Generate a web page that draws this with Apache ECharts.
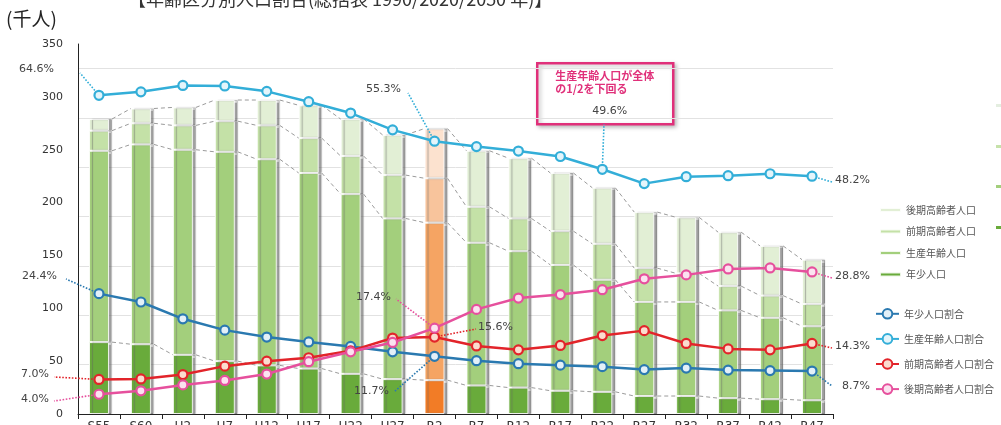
<!DOCTYPE html>
<html>
<head>
<meta charset="utf-8">
<script src="https://cdn.jsdelivr.net/npm/echarts@6/dist/echarts.min.js"></script>
<style>
html, body { margin: 0; padding: 0; background: #fff; }
#chart { width: 1001px; height: 425px; }
</style>
</head>
<body>
<div id="chart"></div>
<script>
// 年次（和暦）
const years = ['S55', 'S60', 'H2', 'H7', 'H12', 'H17', 'H22', 'H27', 'R2', 'R7', 'R12', 'R17', 'R22', 'R27', 'R32', 'R37', 'R42', 'R47']
// 人口（千人）
const young = [68, 66, 56, 50, 46, 43, 38, 33, 32, 27, 25, 22, 21, 17, 17, 15, 14, 13]
const working = [181, 189, 194, 198, 195, 185, 170, 152, 149, 135, 129, 119, 106, 89, 89, 83, 77, 70]
const early = [19, 20, 23, 29, 32, 33, 36, 41, 42, 34, 31, 32, 34, 32, 27, 23, 21, 21]
const late = [11, 14, 17, 20, 24, 31, 35, 38, 47, 53, 57, 55, 53, 53, 53, 51, 47, 42]
// 割合（％）
const youngPct = [24.4, 22.7, 19.3, 17.0, 15.6, 14.6, 13.7, 12.6, 11.7, 10.8, 10.2, 9.9, 9.6, 9.0, 9.3, 8.9, 8.8, 8.7]
const workingPct = [64.6, 65.3, 66.6, 66.5, 65.4, 63.3, 61.0, 57.6, 55.3, 54.2, 53.3, 52.2, 49.6, 46.7, 48.1, 48.3, 48.7, 48.2]
const earlyPct = [7.0, 7.1, 8.0, 9.7, 10.7, 11.4, 12.8, 15.4, 15.6, 13.8, 13.0, 13.9, 15.9, 16.9, 14.3, 13.2, 13.0, 14.3]
const latePct = [4.0, 4.7, 5.9, 6.8, 8.1, 10.6, 12.6, 14.5, 17.4, 21.2, 23.5, 24.2, 25.2, 27.4, 28.2, 29.4, 29.6, 28.8]
// 目盛
const leftTicks = { min: 0, max: 350, interval: 50 }
const pctTicks = { min: 0, max: 75, interval: 10 }

const hiIndex = 8 // R2 をオレンジで強調
const barW = 20
const jp = '"Noto Sans CJK JP", sans-serif'
const num = '"DejaVu Sans", sans-serif'

// 積み上げの上端（区分線用）
const cum1 = young
const cum2 = young.map((v, i) => v + working[i])
const cum3 = cum2.map((v, i) => v + early[i])
const cum4 = cum3.map((v, i) => v + late[i])
const levels = [cum1, cum2, cum3, cum4]

function barData(arr, hiColor) {
    return arr.map((v, i) => i === hiIndex ? { value: v, itemStyle: { color: hiColor } } : v)
}

const barBase = {
    type: 'bar',
    stack: 'pop',
    barWidth: barW,
    itemStyle: {
        borderColor: 'rgba(255,255,255,0.85)',
        borderWidth: 1,
        shadowColor: 'rgba(100,100,100,0.6)',
        shadowBlur: 1,
        shadowOffsetX: 3
    }
}

function lineSeries(name, data, color, fill, leaders) {
    return {
        name: name,
        type: 'line',
        yAxisIndex: 1,
        data: data,
        z: 5,
        symbol: 'circle',
        symbolSize: 9,
        lineStyle: { color: color, width: 2.5 },
        itemStyle: { color: fill, borderColor: color, borderWidth: 2.2 },
        markLine: {
            silent: true,
            symbol: ['none', 'none'],
            label: { show: false },
            lineStyle: { color: color, type: 'dotted', width: 1.6 },
            data: leaders.map(l => [{ coord: [l[0], data[l[0]]] }, { x: l[1], y: l[2] }])
        }
    }
}

function pctText(txt, x, y) {
    return {
        type: 'text', left: x, top: y - 7, z: 20,
        style: { text: txt, font: '11px ' + num, fill: '#444' }
    }
}

const chart = echarts.init(document.getElementById('chart'))
const option = {
    animation: false,
    grid: { left: 78, right: 168, top: 44, bottom: 11, outerBoundsMode: 'none', containLabel: false },
    legend: [
        {
            orient: 'vertical', left: 874, top: 200, itemWidth: 21, itemHeight: 4, itemGap: 11.5,
            textStyle: { fontFamily: jp, fontSize: 10, color: '#555' },
            data: ['後期高齢者人口', '前期高齢者人口', '生産年齢人口', '年少人口']
        },
        {
            orient: 'vertical', left: 870, top: 303, itemWidth: 23, itemHeight: 12, itemGap: 13.5,
            textStyle: { fontFamily: jp, fontSize: 10, color: '#555' },
            data: ['年少人口割合', '生産年齢人口割合', '前期高齢者人口割合', '後期高齢者人口割合']
        }
    ],
    xAxis: {
        type: 'category',
        data: years,
        axisLine: { lineStyle: { color: '#222', width: 1 } },
        axisTick: { show: true, length: 5, lineStyle: { color: '#222' } },
        axisLabel: { fontFamily: num, fontSize: 12, color: '#333', margin: 7 }
    },
    yAxis: [
        {
            type: 'value', min: leftTicks.min, max: leftTicks.max, interval: leftTicks.interval,
            axisLine: { show: true, lineStyle: { color: '#222' } },
            axisTick: { show: false },
            axisLabel: { fontFamily: num, fontSize: 11, color: '#333', margin: 15 },
            splitLine: { show: false }
        },
        {
            type: 'value', min: pctTicks.min, max: pctTicks.max, interval: pctTicks.interval,
            axisLine: { show: false }, axisTick: { show: false }, axisLabel: { show: false },
            splitLine: { show: true, showMaxLine: false, lineStyle: { color: '#e2e2e2' } }
        }
    ],
    series: [
        Object.assign({}, barBase, { name: '年少人口', data: barData(young, '#f27c26'), color: '#69ab3b' }),
        Object.assign({}, barBase, { name: '生産年齢人口', data: barData(working, '#f5a463'), color: '#a3cf7c' }),
        Object.assign({}, barBase, { name: '前期高齢者人口', data: barData(early, '#f8c49c'), color: '#c4e1a7' }),
        Object.assign({}, barBase, { name: '後期高齢者人口', data: barData(late, '#fce2cf'), color: '#e2efd5' }),
        {
            // 棒と棒をつなぐ区分線
            type: 'custom',
            silent: true,
            z: 3,
            data: years.map((y, i) => [i, cum4[i]]),
            renderItem: function (params, api) {
                const i = params.dataIndex
                if (i >= years.length - 1) return
                const children = levels.map(arr => {
                    const p0 = api.coord([i, arr[i]])
                    const p1 = api.coord([i + 1, arr[i + 1]])
                    return {
                        type: 'line',
                        shape: { x1: p0[0] + barW / 2 + 3, y1: p0[1], x2: p1[0] - barW / 2, y2: p1[1] },
                        style: { stroke: '#9a9a9a', lineWidth: 1, lineDash: [4, 3] }
                    }
                })
                return { type: 'group', children: children }
            }
        },
        lineSeries('年少人口割合', youngPct, '#2a79b0', '#e3f0f8', [[0, 66, 279], [8, 394, 392], [17, 832, 386]]),
        lineSeries('生産年齢人口割合', workingPct, '#33aed8', '#e4f5fb', [[0, 80, 73], [8, 408, 93], [12, 604, 124], [17, 832, 182]]),
        lineSeries('前期高齢者人口割合', earlyPct, '#e2242a', '#fbdccf', [[0, 54, 377], [8, 476, 329], [17, 832, 348]]),
        lineSeries('後期高齢者人口割合', latePct, '#e6509d', '#fbe3f0', [[0, 54, 401], [8, 396, 299], [17, 832, 278]])
    ],
    graphic: [
        {
            type: 'text', left: 128, top: -10, z: 20,
            style: { text: '【年齢区分別人口割合(総括表 1990/2020/2050 年)】', font: '18px ' + jp, fill: '#333' }
        },
        {
            type: 'text', left: 6, top: 9, z: 20,
            style: { text: '(千人)', font: '19px ' + jp, fill: '#222' }
        },
        pctText('64.6%', 19, 71),
        pctText('24.4%', 22, 278),
        pctText('7.0%', 21, 376),
        pctText('4.0%', 21, 401),
        pctText('55.3%', 366, 91),
        pctText('17.4%', 356, 299),
        pctText('15.6%', 478, 329),
        pctText('11.7%', 354, 393),
        pctText('48.2%', 835, 182),
        pctText('28.8%', 835, 278),
        pctText('14.3%', 835, 348),
        pctText('8.7%', 842, 388),
        {
            type: 'group', left: 536, top: 62, z: 20,
            children: [
                {
                    type: 'rect', shape: { x: 0, y: 0, width: 136, height: 61 },
                    style: { fill: '#fff', stroke: '#e0307a', lineWidth: 2.5, shadowColor: 'rgba(0,0,0,0.25)', shadowBlur: 4, shadowOffsetX: 2, shadowOffsetY: 2 }
                },
                { type: 'text', x: 18, y: 7, style: { text: '生産年齢人口が全体', font: 'bold 11px ' + jp, fill: '#e0307a' } },
                { type: 'text', x: 18, y: 20, style: { text: 'の1/2を下回る', font: 'bold 11px ' + jp, fill: '#e0307a' } },
                { type: 'text', x: 55, y: 42, style: { text: '49.6%', font: '11px ' + num, fill: '#444' } }
            ]
        },
        // 右端に切れて見える凡例の一部
        { type: 'rect', left: 996, top: 104, shape: { width: 5, height: 3 }, style: { fill: '#e4eee0' } },
        { type: 'rect', left: 996, top: 145, shape: { width: 5, height: 3 }, style: { fill: '#c6e2aa' } },
        { type: 'rect', left: 996, top: 185, shape: { width: 5, height: 3 }, style: { fill: '#a3cf7c' } },
        { type: 'rect', left: 996, top: 226, shape: { width: 5, height: 3 }, style: { fill: '#69ab3b' } }
    ]
}
chart.setOption(option)
</script>
</body>
</html>
